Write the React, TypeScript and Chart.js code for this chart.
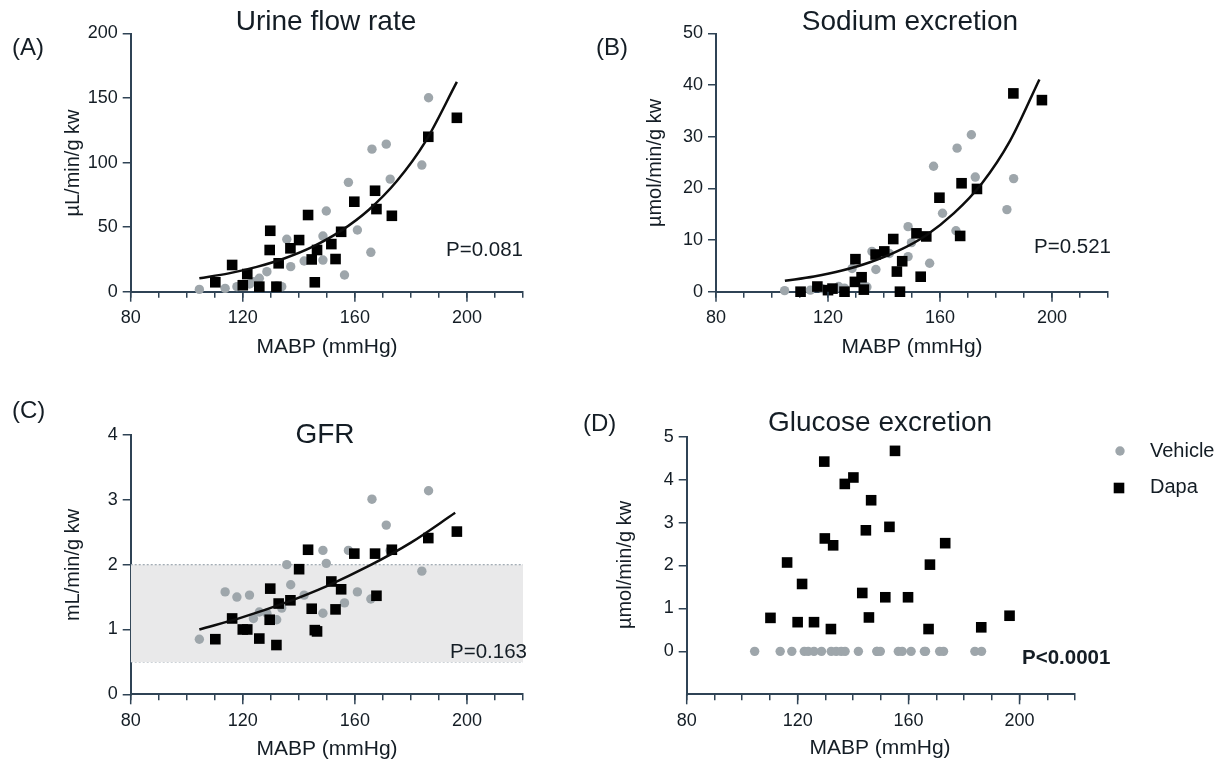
import React, { useEffect, useRef } from 'react';
import { Chart, registerables } from 'chart.js';

Chart.register(...registerables);

// ---- data -----------------------------------------------------------------

const seriesNames = ['Vehicle', 'Dapa'];
const mabpRange = [80, 220];
const mabpTickLabels = [80, 120, 160, 200];

// Mean arterial blood pressure of each animal (mmHg)
const vehicleMabp = [104.5, 113.7, 117.9, 122.4, 123.8, 125.9, 128.6, 132.1, 133.9, 135.7, 137.1, 141.9, 148.6, 148.6, 149.8, 156.3, 157.7, 160.9, 165.7, 166.1, 171.2, 172.6, 183.9, 186.3];
const dapaMabp = [110.2, 116.2, 120.0, 121.6, 125.9, 129.6, 129.8, 132.0, 132.8, 137.0, 140.1, 143.3, 144.6, 145.7, 146.5, 151.6, 153.1, 155.1, 159.8, 167.2, 167.7, 173.2, 186.2, 196.4];

// (A) urine flow rate, µL/min/g kw
const urineVehicle = [1.8, 2.6, 3.9, 6.0, 7.7, 10.4, 15.5, 4.5, 3.9, 40.6, 19.4, 23.8, 43.1, 24.5, 62.5, 12.9, 84.7, 47.8, 30.5, 110.4, 114.3, 87.2, 98.1, 150.2];
const urineDapa = [7.3, 20.7, 5.0, 13.7, 3.9, 32.3, 47.2, 3.9, 22.0, 33.6, 40.0, 59.4, 25.0, 7.3, 32.3, 36.9, 25.3, 46.4, 69.7, 78.2, 64.0, 58.8, 120.0, 134.7];
const urineFitMabp = [104.5, 115, 125, 135, 145, 155, 165, 175, 185, 196.4];
const urineFit = [10.4, 14.2, 19.2, 25.9, 34.9, 47.1, 63.5, 85.7, 115.6, 162.5];

// (B) sodium excretion, µmol/min/g kw
const sodiumVehicle = [0.2, 0.3, 0.6, 0.5, 1.0, 0.7, 4.5, 1.5, 0.9, 7.8, 4.3, 7.4, 12.6, 6.8, 9.5, 5.5, 24.3, 15.2, 11.8, 27.8, 30.4, 22.2, 15.9, 21.9];
const sodiumDapa = [0, 1.0, 0.3, 0.6, 0, 1.9, 6.3, 2.8, 0.4, 7.2, 7.8, 10.2, 3.9, 0, 5.9, 11.3, 2.9, 10.7, 18.2, 10.8, 21.0, 19.9, 38.4, 37.1];
const sodiumFitMabp = [104.6, 115, 125, 135, 145, 155, 165, 175, 185, 195.5];
const sodiumFit = [2.1, 2.95, 4.1, 5.7, 7.9, 10.9, 15.2, 21.0, 29.2, 41.1];

// (C) GFR, mL/min/g kw
const gfrVehicle = [0.85, 1.58, 1.5, 1.53, 1.17, 1.27, 1.25, 1.15, 1.33, 2.0, 1.69, 1.53, 2.22, 1.25, 2.02, 1.41, 2.22, 1.58, 1.47, 3.01, 2.61, 2.22, 1.9, 3.14];
const gfrDapa = [0.85, 1.17, 1.0, 1.0, 0.86, 1.15, 1.63, 0.76, 1.4, 1.45, 1.93, 2.23, 1.32, 0.99, 0.97, 1.74, 1.31, 1.62, 2.17, 2.17, 1.52, 2.23, 2.41, 2.51];
const gfrFitMabp = [104.5, 120, 135, 150, 165, 180, 195.8];
const gfrFit = [1.0, 1.19, 1.41, 1.67, 1.98, 2.34, 2.8];
const gfrAutoregRange = [0.5, 2];

// (D) glucose excretion, µmol/min/g kw
const glucoseVehicle = [0, 0, 0, 0, 0, 0, 0, 0, 0, 0, 0, 0, 0, 0, 0, 0, 0, 0, 0, 0, 0, 0, 0, 0];
const glucoseDapa = [0.78, 2.07, 0.68, 1.57, 0.68, 4.42, 2.63, 0.52, 2.47, 3.9, 4.05, 1.36, 2.82, 0.79, 3.52, 1.26, 2.9, 4.67, 1.26, 0.52, 2.02, 2.52, 0.56, 0.83];

const panelLetters = ['(A)', '(B)', '(C)', '(D)'];
const panelTitles = ['Urine flow rate', 'Sodium excretion', 'GFR', 'Glucose excretion'];
const yAxisTitles = ['µL/min/g kw', 'µmol/min/g kw', 'mL/min/g kw', 'µmol/min/g kw'];
const xAxisTitle = 'MABP (mmHg)';
const pValueLabels = ['P=0.081', 'P=0.521', 'P=0.163', 'P<0.0001'];

// ---- styling --------------------------------------------------------------

const FONT = "'Liberation Sans', Arial, Helvetica, sans-serif";
const AXIS = '#2f4355';
const TEXT = '#141d25';
const VEHICLE_COLOR = '#9ea6ab';
const DAPA_COLOR = '#000000';
const FIT_COLOR = '#0d0d0d';
const BAND_FILL = '#e9e9ea';
const BAND_LINE = '#a3adb5';
const CIRCLE_R = 4.7;
const SQUARE_R = 7.5;
const MAJOR_TICK = 10;

type Box = { left: number; top: number; width: number; height: number };
type Area = { l: number; t: number; r: number; b: number };
type TextItem = {
  text: string; x: number; y: number; size: number;
  align?: CanvasTextAlign; bold?: boolean; rotate?: boolean;
};

interface PanelSpec {
  box: Box;
  area: Area; // plot area in page pixels
  yMin: number; yMax: number; yStep: number;
  vehicle: number[]; dapa: number[];
  fitX?: number[]; fitY?: number[];
  band?: number[];
  texts: TextItem[];
  legend?: { x: number; y1: number; y2: number };
}

const pts = (xs: number[], ys: number[]) => xs.map((x, i) => ({ x, y: ys[i] }));

const panels: PanelSpec[] = [
  {
    box: { left: 0, top: 0, width: 580, height: 385 },
    area: { l: 130.7, t: 33.5, r: 523, b: 291.7 },
    yMin: 0, yMax: 200, yStep: 50,
    vehicle: urineVehicle, dapa: urineDapa,
    fitX: urineFitMabp, fitY: urineFit,
    texts: [
      { text: panelLetters[0], x: 12, y: 48, size: 24, align: 'left' },
      { text: panelTitles[0], x: 326, y: 22, size: 28 },
      { text: yAxisTitles[0], x: 73, y: 163, size: 20, rotate: true },
      { text: xAxisTitle, x: 327, y: 347, size: 21 },
      { text: pValueLabels[0], x: 523, y: 250, size: 20.5, align: 'right' },
    ],
  },
  {
    box: { left: 580, top: 0, width: 652, height: 385 },
    area: { l: 716, t: 33.5, r: 1108, b: 291.7 },
    yMin: 0, yMax: 50, yStep: 10,
    vehicle: sodiumVehicle, dapa: sodiumDapa,
    fitX: sodiumFitMabp, fitY: sodiumFit,
    texts: [
      { text: panelLetters[1], x: 596, y: 48, size: 24, align: 'left' },
      { text: panelTitles[1], x: 910, y: 22, size: 28 },
      { text: yAxisTitles[1], x: 655, y: 163, size: 20, rotate: true },
      { text: xAxisTitle, x: 912, y: 347, size: 21 },
      { text: pValueLabels[1], x: 1111, y: 247, size: 20.5, align: 'right' },
    ],
  },
  {
    box: { left: 0, top: 385, width: 570, height: 378 },
    area: { l: 130.7, t: 435, r: 523, b: 694.3 },
    yMin: 0, yMax: 4, yStep: 1,
    vehicle: gfrVehicle, dapa: gfrDapa,
    fitX: gfrFitMabp, fitY: gfrFit,
    band: gfrAutoregRange,
    texts: [
      { text: panelLetters[2], x: 12, y: 411, size: 24, align: 'left' },
      { text: panelTitles[2], x: 325, y: 435, size: 28 },
      { text: yAxisTitles[2], x: 73, y: 565, size: 20, rotate: true },
      { text: xAxisTitle, x: 327, y: 749, size: 21 },
      { text: pValueLabels[2], x: 527, y: 652, size: 20.5, align: 'right' },
    ],
  },
  {
    box: { left: 570, top: 385, width: 662, height: 378 },
    area: { l: 686.7, t: 436.7, r: 1075, b: 694.3 },
    yMin: -1, yMax: 5, yStep: 1,
    vehicle: glucoseVehicle, dapa: glucoseDapa,
    texts: [
      { text: panelLetters[3], x: 583, y: 424, size: 24, align: 'left' },
      { text: panelTitles[3], x: 880, y: 423, size: 28 },
      { text: yAxisTitles[3], x: 625, y: 565, size: 20, rotate: true },
      { text: xAxisTitle, x: 880, y: 748, size: 21 },
      { text: pValueLabels[3], x: 1022, y: 658, size: 20.5, align: 'left', bold: true },
    ],
    legend: { x: 1119, y1: 451, y2: 488 },
  },
];

// ---- chart construction ---------------------------------------------------

function buildChart(canvas: HTMLCanvasElement, p: PanelSpec): Chart {
  const W = p.box.width;
  const H = p.box.height;
  const ox = p.box.left;
  const oy = p.box.top;
  const a = { l: p.area.l - ox, t: p.area.t - oy, r: p.area.r - ox, b: p.area.b - oy };

  const datasets: any[] = [];
  if (p.band) {
    datasets.push({
      type: 'line',
      data: pts(mabpRange, [p.band[1], p.band[1]]),
      borderColor: BAND_LINE, borderWidth: 1.3, borderDash: [2, 2],
      pointRadius: 0, fill: '+1', backgroundColor: BAND_FILL, order: 10,
    });
    datasets.push({
      type: 'line',
      data: pts(mabpRange, [p.band[0], p.band[0]]),
      borderColor: BAND_LINE, borderWidth: 1.3, borderDash: [2, 2],
      pointRadius: 0, fill: false, order: 11,
    });
  }
  datasets.push({
    type: 'scatter',
    label: seriesNames[0],
    data: pts(vehicleMabp, p.vehicle),
    pointStyle: 'circle', pointRadius: CIRCLE_R, pointBorderWidth: 0,
    backgroundColor: VEHICLE_COLOR, borderColor: VEHICLE_COLOR,
    clip: false, order: 3,
  });
  datasets.push({
    type: 'scatter',
    label: seriesNames[1],
    data: pts(dapaMabp, p.dapa),
    pointStyle: 'rect', pointRadius: SQUARE_R, pointBorderWidth: 0,
    backgroundColor: DAPA_COLOR, borderColor: DAPA_COLOR,
    clip: false, order: 2,
  });
  if (p.fitX && p.fitY) {
    datasets.push({
      type: 'line',
      data: pts(p.fitX, p.fitY),
      borderColor: FIT_COLOR, borderWidth: 2.5,
      pointRadius: 0, fill: false, cubicInterpolationMode: 'monotone',
      clip: false, order: 1,
    });
  }

  const textPlugin = {
    id: 'panelText',
    afterDraw(chart: Chart) {
      const ctx = chart.ctx;
      ctx.save();

      // longer tick marks at the labelled MABP values
      const xs: any = chart.scales.x;
      ctx.strokeStyle = AXIS;
      ctx.lineWidth = 1.5;
      for (const v of mabpTickLabels) {
        const px = xs.getPixelForValue(v);
        ctx.beginPath();
        ctx.moveTo(px, chart.chartArea.bottom);
        ctx.lineTo(px, chart.chartArea.bottom + MAJOR_TICK);
        ctx.stroke();
      }

      ctx.fillStyle = TEXT;
      ctx.textBaseline = 'middle';
      for (const t of p.texts) {
        ctx.font = `${t.bold ? 'bold ' : ''}${t.size}px ${FONT}`;
        ctx.textAlign = t.align || 'center';
        if (t.rotate) {
          ctx.save();
          ctx.translate(t.x - ox, t.y - oy);
          ctx.rotate(-Math.PI / 2);
          ctx.fillText(t.text, 0, 0);
          ctx.restore();
        } else {
          ctx.fillText(t.text, t.x - ox, t.y - oy);
        }
      }
      if (p.legend) {
        const lx = p.legend.x - ox;
        const y1 = p.legend.y1 - oy;
        const y2 = p.legend.y2 - oy;
        ctx.fillStyle = VEHICLE_COLOR;
        ctx.beginPath();
        ctx.arc(lx + 1, y1, CIRCLE_R, 0, Math.PI * 2);
        ctx.fill();
        const s = SQUARE_R * Math.SQRT1_2;
        ctx.fillStyle = DAPA_COLOR;
        ctx.fillRect(lx - s, y2 - s, 2 * s, 2 * s);
        ctx.fillStyle = TEXT;
        ctx.font = `20px ${FONT}`;
        ctx.textAlign = 'left';
        ctx.fillText(seriesNames[0], lx + 31, y1);
        ctx.fillText(seriesNames[1], lx + 31, y2 - 1);
      }
      ctx.restore();
    },
  };

  return new Chart(canvas, {
    type: 'scatter',
    data: { datasets },
    options: {
      responsive: false,
      maintainAspectRatio: false,
      animation: false,
      layout: { padding: { left: 0, top: a.t, right: W - a.r, bottom: 0 } },
      plugins: {
        legend: { display: false },
        tooltip: { enabled: false },
        title: { display: false },
      },
      scales: {
        x: {
          type: 'linear',
          min: mabpRange[0],
          max: mabpRange[1],
          afterFit: (s: any) => { s.height = H - a.b; },
          ticks: {
            stepSize: 10,
            autoSkip: false,
            maxRotation: 0,
            padding: 10,
            color: TEXT,
            font: { size: 18, family: FONT },
            callback: (v: any) => (mabpTickLabels.includes(Number(v)) ? String(v) : ''),
          },
          grid: { display: true, drawOnChartArea: false, drawTicks: true, tickLength: 6, color: AXIS, lineWidth: 1.5 },
          border: { display: true, color: AXIS, width: 2 },
        },
        y: {
          type: 'linear',
          min: p.yMin,
          max: p.yMax,
          afterFit: (s: any) => { s.width = a.l; },
          ticks: {
            stepSize: p.yStep,
            autoSkip: false,
            padding: 5,
            color: TEXT,
            font: { size: 18, family: FONT },
            callback: (v: any) => (Number(v) >= 0 ? String(v) : ''),
          },
          grid: {
            display: true, drawOnChartArea: false, drawTicks: true, tickLength: 8,
            color: AXIS, lineWidth: 1.5,
            tickColor: (c: any) => (c.tick && c.tick.value < 0 ? 'rgba(0,0,0,0)' : AXIS),
          },
          border: { display: true, color: AXIS, width: 2 },
        },
      },
    },
    plugins: [textPlugin],
  } as any);
}

function Panel({ spec }: { spec: PanelSpec }) {
  const ref = useRef<HTMLCanvasElement | null>(null);
  useEffect(() => {
    if (!ref.current) return;
    const chart = buildChart(ref.current, spec);
    return () => chart.destroy();
  }, [spec]);
  return (
    <canvas
      ref={ref}
      width={spec.box.width}
      height={spec.box.height}
      style={{
        position: 'absolute',
        left: spec.box.left,
        top: spec.box.top,
        width: spec.box.width,
        height: spec.box.height,
      }}
    />
  );
}

export default function App() {
  return (
    <div
      style={{
        position: 'absolute',
        left: 0,
        top: 0,
        width: 1232,
        height: 763,
        background: '#ffffff',
        overflow: 'hidden',
      }}
    >
      {panels.map((p, i) => (
        <Panel key={i} spec={p} />
      ))}
    </div>
  );
}
